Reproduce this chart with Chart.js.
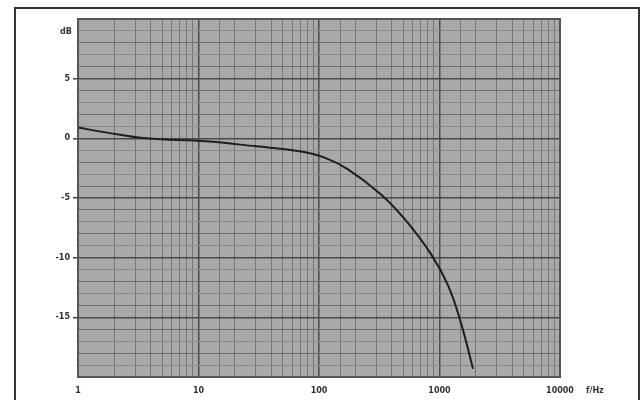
<!DOCTYPE html>
<html>
<head>
<meta charset="utf-8">
<script src="https://cdn.jsdelivr.net/npm/chart.js@4"></script>
<style>
  html, body { margin: 0; padding: 0; background: #fff; }
  #wrap { position: relative; width: 642px; height: 400px; overflow: hidden; }
  #frame { position: absolute; left: 14px; top: 7px; width: 622px; height: 400px;
           border: 2px solid #333; border-bottom: none; }
  canvas { position: absolute; left: 0; top: 0; }
  .lbl { position: absolute; font: bold 8px "DejaVu Sans", sans-serif; color: #333; }
</style>
</head>
<body>
<div id="wrap">
  <div id="frame"></div>
  <canvas id="bode" width="642" height="400"></canvas>
  <span class="lbl" style="left:60px;top:27px">dB</span>
  <span class="lbl" style="left:586px;top:386px">f/Hz</span>
</div>
<script>
// frequency response
const freq = [1, 1.7, 3.7, 11.5, 30, 67, 110, 174, 327, 517, 850, 1175, 1500, 1897];
const gain = [0.9, 0.5, 0.0, -0.25, -0.67, -1.06, -1.6, -2.6, -4.7, -6.8, -9.7, -12.3, -15.4, -19.3];
const xLabels = [1, 10, 100, 1000, 10000];
const yLabels = [5, 0, -5, -10, -15];

const points = freq.map((f, i) => ({ x: f, y: gain[i] }));

// gray graph-paper background under the grid
const paper = {
    id: 'paper',
    beforeDraw(chart) {
        const a = chart.chartArea, c = chart.ctx;
        c.save();
        c.fillStyle = '#a9a9a9';
        c.fillRect(a.left, a.top, a.right - a.left, a.bottom - a.top);
        c.restore();
    },
    afterDraw(chart) {
        const a = chart.chartArea, c = chart.ctx;
        c.save();
        c.strokeStyle = '#555';
        c.lineWidth = 2;
        c.strokeRect(a.left, a.top, a.right - a.left, a.bottom - a.top);
        c.restore();
    }
};

new Chart(document.getElementById('bode'), {
    type: 'line',
    data: {
        datasets: [{
            data: points,
            borderColor: '#1e1e1e',
            borderWidth: 2,
            pointRadius: 0,
            tension: 0.4
        }]
    },
    options: {
        responsive: false,
        animation: false,
        layout: { padding: { top: 19, right: 82, left: 0, bottom: 0 } },
        plugins: { legend: { display: false }, tooltip: { enabled: false } },
        scales: {
            x: {
                type: 'logarithmic',
                min: 1, max: 10000,
                afterFit(s) { s.height = 23; },
                grid: {
                    color(ctx) {
                        const v = ctx.tick && ctx.tick.value;
                        return xLabels.includes(v) ? '#4a4a4a' : '#777';
                    },
                    lineWidth(ctx) {
                        const v = ctx.tick && ctx.tick.value;
                        return xLabels.includes(v) ? 1.5 : 1;
                    },
                    drawTicks: false
                },
                border: { display: false },
                ticks: {
                    autoSkip: false,
                    maxRotation: 0,
                    padding: 9,
                    color: '#333',
                    font: { family: 'DejaVu Sans', size: 8, weight: 'bold' },
                    callback(v) { return xLabels.includes(v) ? String(v) : ''; }
                }
            },
            y: {
                min: -20, max: 10,
                afterFit(s) { s.width = 78; },
                grid: {
                    color(ctx) {
                        const v = ctx.tick && ctx.tick.value;
                        if (v % 5 === 0) return '#4a4a4a';
                        return v % 2 === 0 ? '#6e6e6e' : '#8a8a8a';
                    },
                    lineWidth(ctx) {
                        const v = ctx.tick && ctx.tick.value;
                        return v % 5 === 0 ? 1.5 : 1;
                    },
                    tickLength: 5,
                    tickColor(ctx) {
                        const v = ctx.tick && ctx.tick.value;
                        return yLabels.includes(v) ? '#444' : 'rgba(0,0,0,0)';
                    }
                },
                border: { display: false },
                ticks: {
                    stepSize: 1,
                    autoSkip: false,
                    padding: 3,
                    color: '#333',
                    font: { family: 'DejaVu Sans', size: 8, weight: 'bold' },
                    callback(v) { return yLabels.includes(v) ? String(v) : ''; }
                }
            }
        }
    },
    plugins: [paper]
});
</script>
</body>
</html>
